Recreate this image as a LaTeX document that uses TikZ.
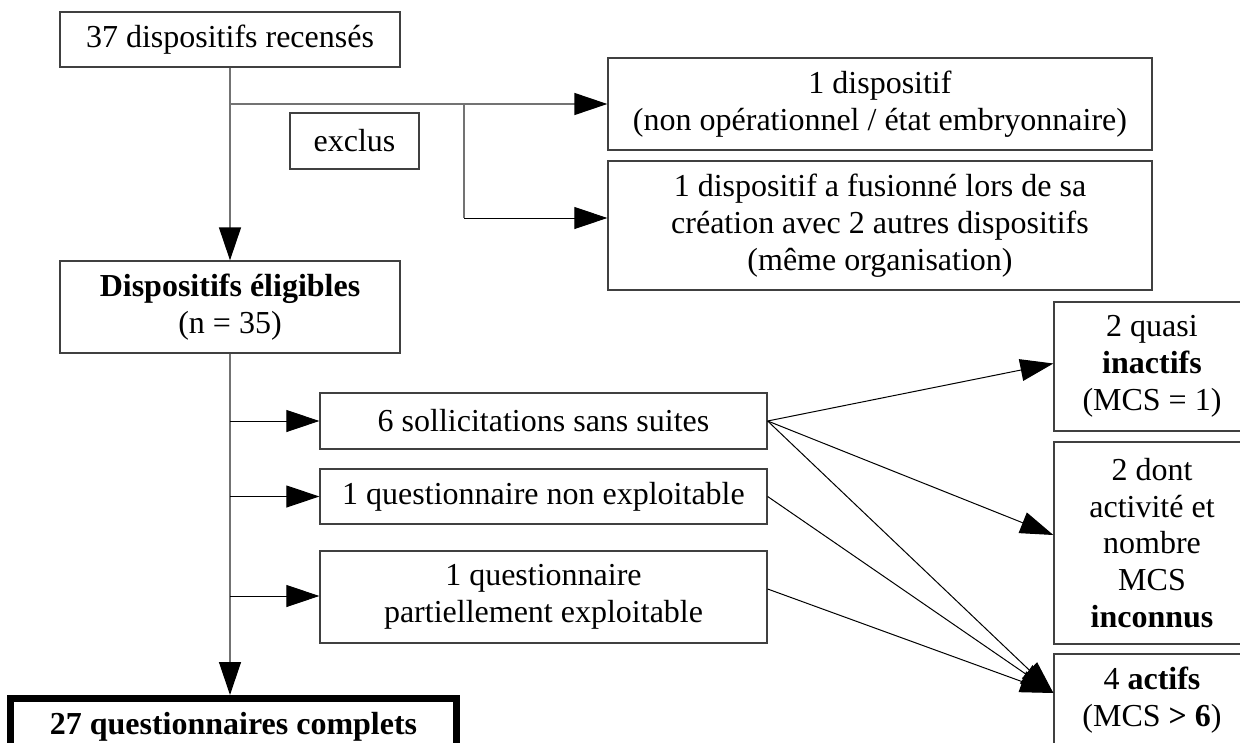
\documentclass[tikz,border=0pt]{standalone}
\usepackage{fontspec}
\setmainfont{Liberation Serif}
\usetikzlibrary{arrows.meta}

\begin{document}
\begin{tikzpicture}[x=1pt, y=-1pt, >={Triangle[length=33pt,width=22pt,color=black]},
    every node/.style={font=\fontsize{32}{36.7}\selectfont, align=center, inner sep=0pt},
    box/.style={draw=black!75, line width=1.3pt, minimum width=#1},
    link/.style={draw=black!55, line width=1.3pt},
    diag/.style={draw=black, line width=1pt}]
    \useasboundingbox (0,0) rectangle (1240,742);

    \node[box=340pt, minimum height=55pt] (recenses) at (230,39.5) {37 dispositifs recensés};
    \node[box=129pt, minimum height=56pt] (exclus) at (354.5,141) {exclus};
    \node[box=544pt, minimum height=92pt] (nonop) at (880,104) {1 dispositif\\(non opérationnel / état embryonnaire)};
    \node[box=544pt, minimum height=129pt] (fusion) at (880,225.5) {1 dispositif a fusionné lors de sa\\création avec 2 autres dispositifs\\(même organisation)};
    \node[box=340pt, minimum height=92pt] (eligibles) at (230,307) {\textbf{Dispositifs éligibles}\\(n = 35)};

    \node[box=447pt, minimum height=56pt] (sanssuite) at (543.5,421) {6 sollicitations sans suites};
    \node[box=447pt, minimum height=55pt] (nonexpl) at (543.5,496.5) {1 questionnaire non exploitable};
    \node[box=447pt, minimum height=92pt] (partiel) at (543.5,597) {1 questionnaire\\partiellement exploitable};

    \node[box=196pt, minimum height=129pt] (inactifs) at (1152,366.5) {2 quasi\\\textbf{inactifs}\\(MCS = 1)};
    \node[box=196pt, minimum height=202pt] (inconnus) at (1152,543) {2 dont\\activité et\\nombre\\MCS\\\textbf{inconnus}};
    \node[box=196pt, minimum height=92pt] (actifs) at (1152,700) {4 \textbf{actifs}\\(MCS \textbf{> 6})};

    \node[draw=black, line width=7pt, minimum width=446pt, minimum height=56pt] (complets) at (233.5,726.5) {\textbf{27 questionnaires complets}};

    % exclusions
    \coordinate (split) at (recenses.south |- nonop.west);
    \coordinate (fork) at (464,104);
    \draw[link,->] (recenses.south) -- (eligibles.north);
    \draw[link,->] (split) -- (nonop.west);
    \draw[link] (fork) -- (464,218);
    \draw[diag,->] (464,218) -- ([yshift=7.5pt]fusion.west);

    % questionnaires
    \coordinate (b1) at (eligibles.south |- sanssuite.west);
    \coordinate (b2) at (eligibles.south |- nonexpl.west);
    \coordinate (b3) at ([yshift=1pt]eligibles.south |- partiel.west);
    \draw[link,->] (eligibles.south) -- (eligibles.south |- complets.north);
    \draw[diag,->] (b1) -- (sanssuite.west);
    \draw[diag,->] (b2) -- (nonexpl.west);
    \draw[diag,->] (b3) -- ([yshift=1pt]partiel.west);

    % activite
    \draw[diag,->] (sanssuite.east) -- ([yshift=3pt]inactifs.west);
    \draw[diag,->] (sanssuite.east) -- ([yshift=8pt]inconnus.west);
    \draw[diag,->] (sanssuite.east) -- ([yshift=7pt]actifs.west);
    \draw[diag,->] (nonexpl.east) -- ([yshift=7pt]actifs.west);
    \draw[diag,->] ([yshift=8pt]partiel.east) -- ([yshift=7pt]actifs.west);
\end{tikzpicture}
\end{document}
